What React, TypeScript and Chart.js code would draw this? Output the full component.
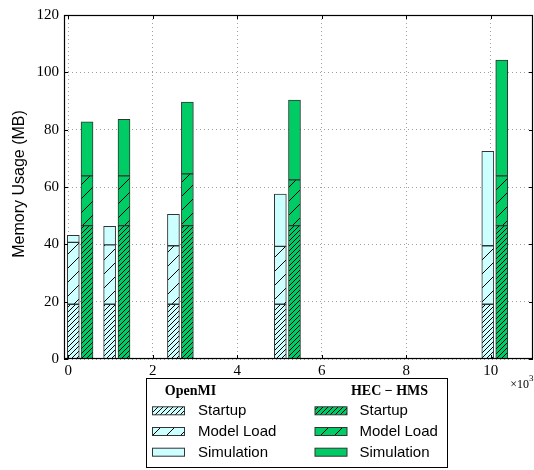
import React, { useEffect, useRef } from "react";
import { Chart, registerables } from "chart.js";

Chart.register(...registerables);

// ---- data (x in thousands, y in MB) ----
const openmiX = [0.12, 0.98, 2.49, 5.02, 9.93];
const hecX = [0.445, 1.32, 2.82, 5.355, 10.26];
const openmiStartup = [19.1, 19.1, 19.1, 19.1, 19.1];
const openmiModelLoad = [21.6, 20.7, 20.4, 20.2, 20.4];
const openmiSimulation = [2.4, 6.5, 11.0, 18.2, 32.9];
const hecStartup = [46.5, 46.5, 46.5, 46.5, 46.5];
const hecModelLoad = [17.4, 17.4, 18.1, 16.0, 17.4];
const hecSimulation = [18.8, 19.7, 25.0, 27.8, 40.4];
const xTicks = [0, 2, 4, 6, 8, 10];
const yTicks = [0, 20, 40, 60, 80, 100, 120];
const seriesNames = ["Startup", "Model Load", "Simulation"];
const groupNames = ["OpenMI", "HEC \u2212 HMS"];
const yTitle = "Memory Usage (MB)";

const CYAN = "#ccffff";
const GREEN = "#00cc66";
const SERIF = "'Liberation Serif', 'DejaVu Serif', serif";
const SANS = "'Liberation Sans', Arial, sans-serif";

function makeHatch(bg: string, step: number): CanvasPattern | string {
  const c = document.createElement("canvas");
  c.width = step;
  c.height = step;
  const g = c.getContext("2d");
  if (!g) return bg;
  g.fillStyle = bg;
  g.fillRect(0, 0, step, step);
  g.strokeStyle = "#000";
  g.lineWidth = 1;
  g.beginPath();
  g.moveTo(0, step);
  g.lineTo(step, 0);
  g.moveTo(-1, 1);
  g.lineTo(1, -1);
  g.moveTo(step - 1, step + 1);
  g.lineTo(step + 1, step - 1);
  g.stroke();
  return g.createPattern(c, "repeat") || bg;
}

export default function App() {
  const ref = useRef<HTMLCanvasElement | null>(null);

  useEffect(() => {
    document.body.style.margin = "0";
    const canvas = ref.current;
    if (!canvas) return;

    const openFills = [makeHatch(CYAN, 5), makeHatch(CYAN, 14), CYAN];
    const hecFills = [makeHatch(GREEN, 5), makeHatch(GREEN, 14), GREEN];

    const mk = (label: string, xs: number[], ys: number[], fill: any, stack: string) => ({
      type: "bar" as const,
      label,
      data: xs.map((x, i) => ({ x, y: ys[i] })),
      backgroundColor: fill,
      borderColor: "#333",
      borderWidth: 1,
      borderSkipped: false,
      stack,
      barThickness: 12,
      grouped: false,
    });

    const datasets = [
      mk(seriesNames[0], openmiX, openmiStartup, openFills[0], "openmi"),
      mk(seriesNames[1], openmiX, openmiModelLoad, openFills[1], "openmi"),
      mk(seriesNames[2], openmiX, openmiSimulation, openFills[2], "openmi"),
      mk(seriesNames[0], hecX, hecStartup, hecFills[0], "hec"),
      mk(seriesNames[1], hecX, hecModelLoad, hecFills[1], "hec"),
      mk(seriesNames[2], hecX, hecSimulation, hecFills[2], "hec"),
    ];

    const decor = {
      id: "decor",
      afterDatasetsDraw(chart: any) {
        const { ctx, chartArea, scales } = chart;
        const { left, right, top, bottom } = chartArea;
        const xs = scales.x;
        const ys = scales.y;
        ctx.save();
        // frame
        ctx.strokeStyle = "#000";
        ctx.lineWidth = 1.2;
        ctx.strokeRect(left + 0.5, top + 0.5, right - left - 1, bottom - top - 1);
        // inward ticks
        ctx.lineWidth = 1;
        ctx.beginPath();
        xTicks.forEach((v) => {
          const p = Math.round(xs.getPixelForValue(v)) + 0.5;
          ctx.moveTo(p, bottom);
          ctx.lineTo(p, bottom - 4);
          ctx.moveTo(p, top);
          ctx.lineTo(p, top + 4);
        });
        yTicks.forEach((v) => {
          const p = Math.round(ys.getPixelForValue(v)) + 0.5;
          ctx.moveTo(left, p);
          ctx.lineTo(left + 4, p);
          ctx.moveTo(right, p);
          ctx.lineTo(right - 4, p);
        });
        ctx.stroke();

        // y title
        ctx.fillStyle = "#000";
        ctx.save();
        ctx.translate(20, 184);
        ctx.rotate(-Math.PI / 2);
        ctx.font = `16px ${SANS}`;
        ctx.textAlign = "center";
        ctx.textBaseline = "middle";
        ctx.fillText(yTitle, 0, 0);
        ctx.restore();

        // offset label x10^3
        ctx.font = `12px ${SERIF}`;
        ctx.textAlign = "right";
        ctx.textBaseline = "middle";
        ctx.fillText("\u00d710", 529, 385);
        ctx.font = `9px ${SERIF}`;
        ctx.textAlign = "left";
        ctx.fillText("3", 529, 379);

        // legend
        ctx.lineWidth = 1;
        ctx.strokeStyle = "#000";
        ctx.fillStyle = "#fff";
        ctx.fillRect(146.5, 378.5, 301, 89);
        ctx.strokeRect(146.5, 378.5, 301, 89);
        ctx.fillStyle = "#000";
        ctx.font = `bold 14px ${SERIF}`;
        ctx.textAlign = "center";
        ctx.textBaseline = "middle";
        ctx.fillText(groupNames[0], 190.5, 391);
        ctx.fillText(groupNames[1], 389.5, 391);
        const rowsY = [410.8, 431.5, 452.2];
        const cols = [
          { px: 152.5, tx: 198, fills: openFills },
          { px: 315, tx: 359.5, fills: hecFills },
        ];
        cols.forEach((c) => {
          rowsY.forEach((ry, i) => {
            ctx.fillStyle = c.fills[i];
            ctx.fillRect(c.px, ry - 4, 32, 8);
            ctx.strokeStyle = "#333";
            ctx.strokeRect(c.px, ry - 4, 32, 8);
            ctx.fillStyle = "#000";
            ctx.font = `15px ${SANS}`;
            ctx.textAlign = "left";
            ctx.textBaseline = "middle";
            ctx.fillText(seriesNames[i], c.tx, ry + 0.5);
          });
        });
        ctx.restore();
      },
    };

    const chart = new Chart(canvas, {
      type: "bar",
      data: { datasets: datasets as any },
      plugins: [decor],
      options: {
        animation: false,
        responsive: false,
        maintainAspectRatio: false,
        layout: { padding: { top: 15, right: 1, left: 0, bottom: 0 } },
        plugins: { legend: { display: false }, tooltip: { enabled: false } },
        scales: {
          x: {
            type: "linear",
            offset: false,
            min: -0.1,
            max: 11,
            afterBuildTicks: (s: any) => {
              s.ticks = xTicks.map((v) => ({ value: v }));
            },
            afterFit: (s: any) => {
              s.height = 111;
            },
            grid: { color: "#888", lineWidth: 0.8, drawTicks: false, offset: false },
            border: { display: false, dash: [1, 3] },
            ticks: {
              color: "#000",
              font: { family: SERIF, size: 15 },
              padding: 3,
              maxRotation: 0,
              callback: (v: any) => String(v),
            },
          },
          y: {
            stacked: true,
            min: 0,
            max: 120,
            afterBuildTicks: (s: any) => {
              s.ticks = yTicks.map((v) => ({ value: v }));
            },
            afterFit: (s: any) => {
              s.width = 64;
            },
            grid: { color: "#888", lineWidth: 0.8, drawTicks: false },
            border: { display: false, dash: [1, 3] },
            ticks: {
              color: "#000",
              font: { family: SERIF, size: 15 },
              padding: 5,
              callback: (v: any) => String(v),
            },
          },
        },
      } as any,
    });

    return () => chart.destroy();
  }, []);

  return (
    <div style={{ width: 534, height: 470 }}>
      <canvas ref={ref} width={534} height={470} style={{ display: "block" }} />
    </div>
  );
}
